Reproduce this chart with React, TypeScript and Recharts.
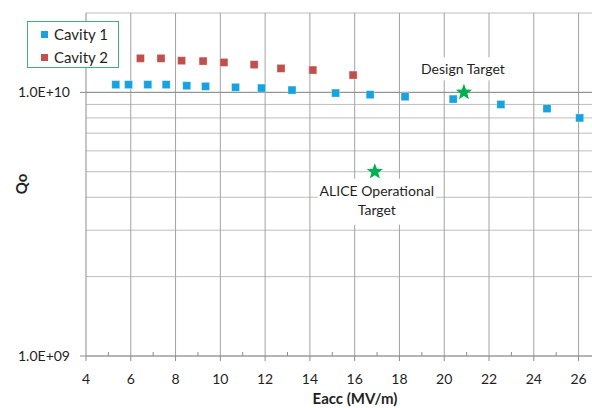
import React from "react"
import { ScatterChart, Scatter, XAxis, YAxis, CartesianGrid, ReferenceLine } from "recharts"

const cavity1X = [5.33, 5.9, 6.76, 7.58, 8.5, 9.34, 10.68, 11.84, 13.2, 15.15, 16.69, 18.25, 20.4, 22.53, 24.59, 26.05]
const cavity1Q = [1.07e10, 1.07e10, 1.07e10, 1.07e10, 1.06e10, 1.054e10, 1.045e10, 1.038e10, 1.02e10, 0.994e10, 0.98e10, 0.963e10, 0.943e10, 0.9e10, 0.868e10, 0.8e10]

const cavity2X = [6.43, 7.35, 8.27, 9.23, 10.16, 11.51, 12.71, 14.13, 15.93]
const cavity2Q = [1.346e10, 1.346e10, 1.319e10, 1.314e10, 1.299e10, 1.274e10, 1.233e10, 1.215e10, 1.163e10]

const targetNames = ["Design Target", "ALICE Operational Target"]
const targetX = [20.88, 16.9]
const targetQ = [1.0e10, 5.0e9]

const seriesNames = ["Cavity 1", "Cavity 2"]
const seriesColors = ["#17a2e0", "#c0504d"]

const xMajorTicks = [4, 6, 8, 10, 12, 14, 16, 18, 20, 22, 24, 26]
const xAllTicks = [4, 5, 6, 7, 8, 9, 10, 11, 12, 13, 14, 15, 16, 17, 18, 19, 20, 21, 22, 23, 24, 25, 26]
const yTicks = [1e9, 2e9, 3e9, 4e9, 5e9, 6e9, 7e9, 8e9, 9e9, 1e10, 2e10]
const yLabelled = [1e9, 1e10]

const FONT = "Lato, 'Open Sans', sans-serif"
const TEXT = "#1f1f1f"

const cavity1 = cavity1X.map((x, i) => ({ x, q: cavity1Q[i] }))
const cavity2 = cavity2X.map((x, i) => ({ x, q: cavity2Q[i] }))
const targets = targetX.map((x, i) => ({ x, q: targetQ[i], name: targetNames[i] }))

function fmtQ(v: number) {
  const e = Math.round(Math.log10(v))
  return `1.0E+${String(e).padStart(2, "0")}`
}

const XTick = ({ x, y, payload }: any) => {
  const v = payload.value
  if (v % 2 !== 0) {
    return <line x1={x} x2={x} y1={y - 4} y2={y} stroke="#8c8c8c" />
  }
  return (
    <g>
      <line x1={x} x2={x} y1={y} y2={y + 5} stroke="#8c8c8c" />
      <text x={x} y={y + 28} textAnchor="middle" fontSize={14} fontFamily={FONT} fill={TEXT}>
        {v}
      </text>
    </g>
  )
}

const YTick = ({ x, y, payload }: any) => {
  const v = payload.value
  if (!yLabelled.includes(v)) return null
  return (
    <g>
      <line x1={x - 6} x2={x} y1={y} y2={y} stroke="#8c8c8c" />
      <text x={x - 16} y={y + 5} textAnchor="end" fontSize={14} fontFamily={FONT} fill={TEXT}>
        {fmtQ(v)}
      </text>
    </g>
  )
}

const Square = (color: string) => (props: any) => {
  const { cx, cy } = props
  return <rect x={cx - 4} y={cy - 4} width={8} height={8} fill={color} stroke="#ffffff" strokeOpacity={0.4} strokeWidth={0.8} />
}

function starPath(cx: number, cy: number, ro: number, ri: number) {
  const pts: string[] = []
  for (let i = 0; i < 10; i++) {
    const r = i % 2 === 0 ? ro : ri
    const a = -Math.PI / 2 + (i * Math.PI) / 5
    pts.push(`${(cx + r * Math.cos(a)).toFixed(2)},${(cy + r * Math.sin(a)).toFixed(2)}`)
  }
  return pts.join(" ")
}

const TargetMark = (props: any) => {
  const { cx, cy, payload } = props
  const name: string = payload.name
  const below = name.startsWith("ALICE")
  const lines = below ? ["ALICE Operational", "Target"] : [name]
  const boxW = below ? 118 : 90
  const boxH = below ? 46 : 23
  const boxY = below ? cy + 7 : cy - 35
  return (
    <g>
      <rect x={cx - boxW / 2 + (below ? 2 : -1)} y={boxY} width={boxW} height={boxH} fill="#ffffff" />
      {lines.map((t, i) => (
        <text
          key={t}
          x={cx + (below ? 2 : -1)}
          y={boxY + 17 + i * 19}
          textAnchor="middle"
          fontSize={14}
          fontFamily={FONT}
          fill={TEXT}
        >
          {t}
        </text>
      ))}
      <polygon points={starPath(cx, cy, 8.5, 3.6)} fill="#00b050" />
    </g>
  )
}

export default function App() {
  return (
    <div style={{ position: "absolute", left: 0, top: 0, width: 592, height: 408, background: "#fff", overflow: "hidden" }}>
      <ScatterChart width={592} height={408} margin={{ top: 13, right: 0, bottom: 22, left: 0 }}>
        <CartesianGrid vertical={false} stroke="#bdbdbd" />
        {xMajorTicks.slice(1).map((v) => (
          <ReferenceLine key={v} x={v} stroke="#a3a3a3" />
        ))}
        <ReferenceLine y={1e10} stroke="#8c8c8c" />
        <XAxis
          type="number"
          dataKey="x"
          domain={[4, 26.6]}
          ticks={xAllTicks}
          interval={0}
          allowDataOverflow
          height={30}
          tickSize={0}
          tickMargin={0}
          stroke="#8c8c8c"
          tick={<XTick />}
        />
        <YAxis
          type="number"
          dataKey="q"
          scale="log"
          domain={[1e9, 2e10]}
          ticks={yTicks}
          interval={0}
          allowDataOverflow
          width={86}
          tickSize={0}
          tickMargin={0}
          stroke="#8c8c8c"
          tick={<YTick />}
        />
        <Scatter name={seriesNames[0]} data={cavity1} shape={Square(seriesColors[0])} isAnimationActive={false} />
        <Scatter name={seriesNames[1]} data={cavity2} shape={Square(seriesColors[1])} isAnimationActive={false} />
        <Scatter name="Targets" data={targets} shape={<TargetMark />} isAnimationActive={false} />
      </ScatterChart>

      <div
        style={{
          position: "absolute",
          left: 27,
          top: 21,
          width: 90,
          height: 45,
          border: "1px solid #3cb371",
          background: "#fff",
          fontFamily: FONT,
          fontSize: 15,
          color: TEXT,
          boxSizing: "content-box",
        }}
      >
        {seriesNames.map((n, i) => (
          <div key={n} style={{ position: "absolute", left: 13, top: 2 + i * 23, height: 20, display: "flex", alignItems: "center", whiteSpace: "nowrap" }}>
            <span style={{ display: "inline-block", width: 7, height: 7, background: seriesColors[i], marginRight: 6 }} />
            <span>{n}</span>
          </div>
        ))}
      </div>

      <div
        style={{
          position: "absolute",
          left: 21,
          top: 184,
          transform: "translate(-50%, -50%) rotate(-90deg)",
          fontFamily: FONT,
          fontWeight: 700,
          fontSize: 15,
          color: TEXT,
        }}
      >
        Qo
      </div>
      <div
        style={{
          position: "absolute",
          left: 355,
          top: 398,
          transform: "translate(-50%, -50%)",
          fontFamily: FONT,
          fontWeight: 700,
          fontSize: 15,
          lineHeight: "16px",
          color: TEXT,
          whiteSpace: "nowrap",
        }}
      >
        Eacc (MV/m)
      </div>
    </div>
  )
}
